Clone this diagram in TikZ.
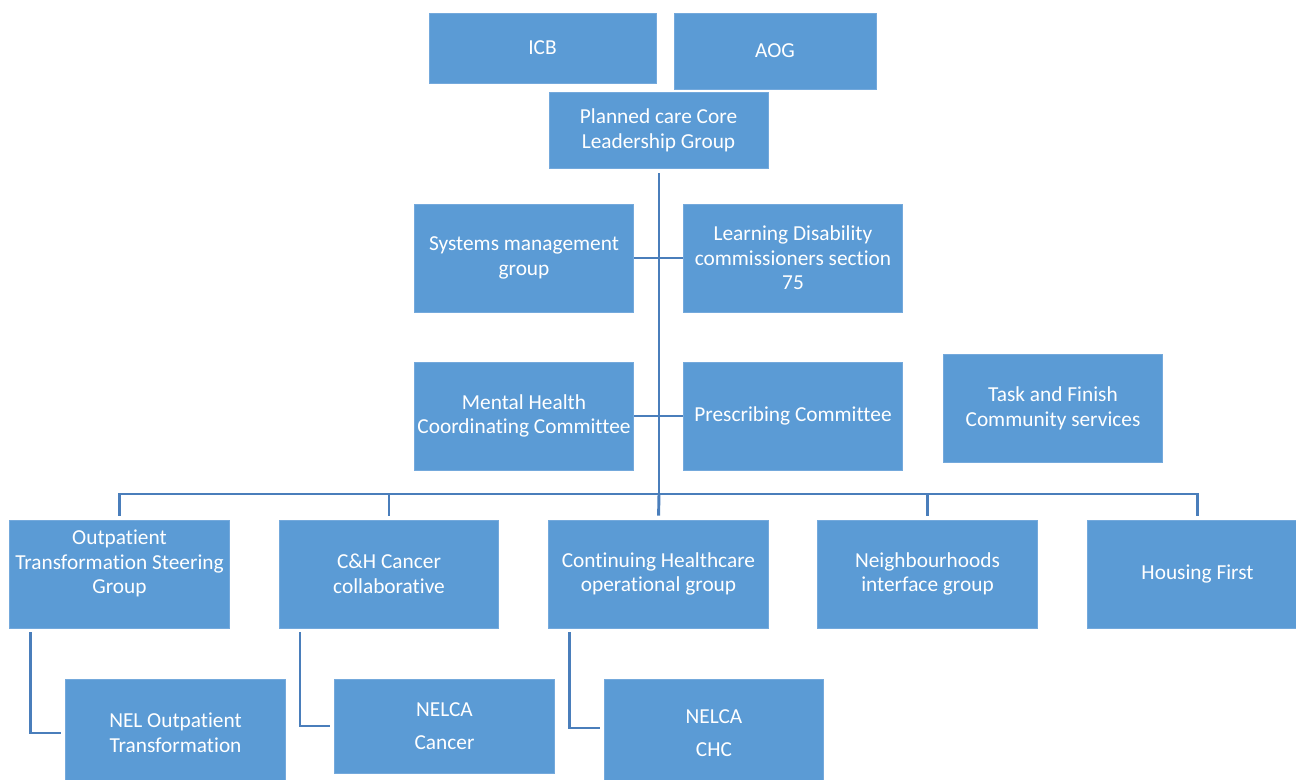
\documentclass[tikz,border=0pt]{standalone}
\usepackage{fontspec}
\setmainfont{Carlito}[Ligatures=NoCommon]
\usetikzlibrary{calc}
\definecolor{boxfill}{HTML}{5B9BD5}
\definecolor{boxedge}{HTML}{74A9DC}
\definecolor{linec}{HTML}{4A7EBB}
\tikzset{
  orgbox/.style={rectangle, fill=boxfill, draw=boxedge, line width=0.6pt,
    text=white, align=center, inner sep=1pt,
    font=\fontsize{16}{18.5}\selectfont},
  wide/.style={minimum width=164.5pt, minimum height=81pt},
  conn/.style={draw=linec, line width=2.2pt},
  thin/.style={draw=linec, line width=1.8pt}
}
\begin{document}
\begin{tikzpicture}[x=0.75pt,y=-0.75pt]
\useasboundingbox (0,0) rectangle (1296,780);
\clip (0,0) rectangle (1296,780);
\node[orgbox, minimum width=170.25pt, minimum height=52.5pt] (icb) at (542.5,48) {ICB};
\node[orgbox, minimum width=151.5pt, minimum height=57pt] (aog) at (775,51) {AOG};
\node[orgbox, minimum width=164.25pt, minimum height=57pt] (plan) at (658.5,130) {Planned care Core\\Leadership Group};
\node[orgbox, wide] (sys) at (524,258) {Systems management\\group};
\node[orgbox, wide] (ld) at (793,258) {Learning Disability\\commissioners section\\75};
\node[orgbox, wide] (mh) at (524,416) {Mental Health\\Coordinating Committee};
\node[orgbox, wide] (pc) at (793,416) {Prescribing Committee};
\node[orgbox, wide] (tf) at (1053,408) {Task and Finish\\Community services};
\node[orgbox, wide] (otsg) at (119.5,574) {Outpatient\\Transformation Steering\\Group\\ \mbox{}};
\node[orgbox, wide] (chc) at (389,574) {C\&H Cancer\\collaborative};
\node[orgbox, wide] (cont) at (658.5,574) {Continuing Healthcare\\operational group};
\node[orgbox, wide] (nb) at (927.5,574) {Neighbourhoods\\interface group};
\node[orgbox, wide] (hf) at (1197.5,574) {Housing First};
\node[orgbox, wide] (nelo) at (175.5,733) {NEL Outpatient\\Transformation};
\node[orgbox, minimum width=164.5pt, minimum height=70.5pt] (nelc) at (444.5,726) {NELCA\\[6pt]Cancer};
\node[orgbox, wide] (nelh) at (714,733) {NELCA\\[6pt]CHC};
\coordinate (bus) at (659,494);
\draw[conn] ($(plan.south)+(0.5,5)$) -- (bus);
\draw[conn] (sys.east) -- (ld.west);
\draw[conn] (mh.east) -- (pc.west);
\draw[conn, shorten >=3pt] (bus) -| (otsg.north);
\draw[conn, shorten >=3pt] (bus) -| (chc.north);
\draw[conn, shorten >=3pt] (bus) -- (cont.north);
\draw[conn, shorten >=3pt] (bus) -| (nb.north);
\draw[conn, shorten >=3pt] (bus) -| (hf.north);
\draw[thin, shorten >=3pt] ($(otsg.south west)+(21,4)$) |- (nelo.west);
\draw[thin, shorten >=3pt] ($(chc.south west)+(21,4)$) |- (nelc.west);
\draw[thin, shorten >=3pt] ($(cont.south west)+(21,4)$) |- ($(nelh.west)+(0,-5)$);
\end{tikzpicture}
\end{document}
